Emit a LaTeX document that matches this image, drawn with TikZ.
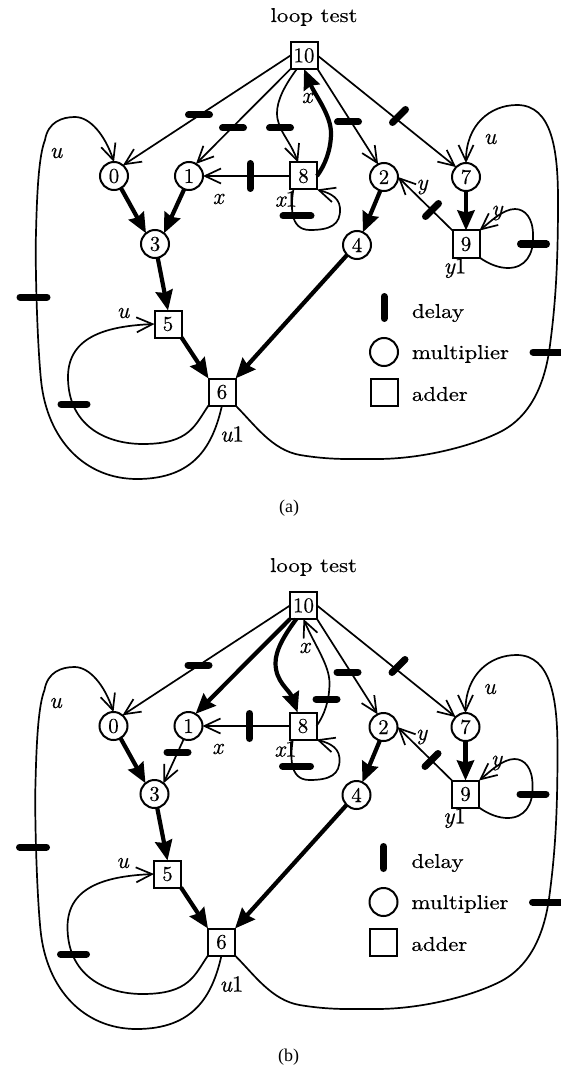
\documentclass[tikz,border=0pt]{standalone}
\usepackage{fontspec}
\usetikzlibrary{arrows.meta}
\setmainfont[FakeBold=0.3]{lmroman10-regular.otf}
\newfontfamily\capfont{Liberation Serif}
\newfontfamily\wideroman[FakeStretch=1.14,FakeBold=0.5]{lmroman10-regular.otf}
\newfontfamily\litalic[FakeBold=0.5]{lmroman10-italic.otf}
\tikzset{
  lbl/.style={font=\fontsize{23}{26}\selectfont,inner sep=0pt,outer sep=0pt},
  mult/.style={circle,draw,line width=2pt,minimum size=28pt,inner sep=0pt,outer sep=0pt,font=\fontsize{21}{24}\selectfont},
  addr/.style={rectangle,draw,line width=2pt,minimum size=27pt,inner sep=0pt,outer sep=0pt,font=\fontsize{21}{24}\selectfont},
  word/.style={font=\wideroman\fontsize{20}{24}\selectfont,inner sep=0pt,outer sep=0pt},
  thinarr/.style={line width=1.7pt,-{Straight Barb[length=16pt,width=15pt]}},
  thickarr/.style={line width=4.2pt,-{Stealth[length=20pt,width=17pt,inset=2pt]}},
  bar/.style={line width=7pt,line cap=round},
  captext/.style={font=\capfont\fontsize{18}{22}\selectfont,inner sep=0pt}
}
\newcommand\il[1]{{\litalic #1}}
\newcommand\delayh[2]{\draw[bar] (#1-10.5,#2) -- (#1+10.5,#2);}
\newcommand\delayv[2]{\draw[bar] (#1,#2-11) -- (#1,#2+11);}
\newcommand\delayd[2]{\draw[bar] (#1-6.5,#2+6.5) -- (#1+6.5,#2-6.5);}
\newcommand\commonpart{%
  \node[word] (title) at (314,17) {loop test};
  \node[addr] (n10) at (304,55.5) {10};
  \node[addr] (n8) at (303.5,176) {8};
  \node[mult] (n0) at (114,176) {0};
  \node[mult] (n1) at (189,176) {1};
  \node[mult] (n3) at (155,244) {3};
  \node[mult] (n2) at (384,177) {2};
  \node[mult] (n7) at (466,177) {7};
  \node[mult] (n4) at (357,245) {4};
  \node[addr] (n9) at (466,244) {9};
  \node[addr] (n5) at (168,324) {5};
  \node[addr] (n6) at (222,392) {6};
  % legend
  \node[mult] (legm) at (384,352) {};
  \node[addr] (lega) at (384,392) {};
  \delayv{384}{307.5}
  \node[word,anchor=west] (td) at (412,313) {delay};
  \node[word,anchor=west] (tm) at (412,354) {multiplier};
  \node[word,anchor=west] (ta) at (412,394) {adder};
  % common edges
  \draw[thinarr] (n10.west) -- (n0.50);
  \delayh{199}{115}
  \draw[thinarr] (n10.south east) -- (n2.115);
  \delayh{348}{122}
  \draw[thinarr] (n10.east) -- (n7.135);
  \delayd{399}{116}
  \draw[thinarr] (n8.west) -- (n1.east);
  \draw[bar] (250,163.5) -- (250,188.5);
  \draw[thinarr] (n8.233) .. controls (291,205) and (289,230) .. (310,230)
     .. controls (330,230) and (341,225) .. (340,208)
     .. controls (339,195) and (325,192) .. (n8.south east);
  \draw[bar] (283,216) -- (311,216);
  \draw[thinarr] (n9.north west) -- (n2.east);
  \delayd{432}{210}
  \draw[thinarr] (n9.south east) .. controls (490,265) and (500,268) .. (508,268)
     .. controls (525,268) and (534,255) .. (533,235)
     .. controls (533,218) and (525,209) .. (515,209)
     .. controls (503,209) and (490,222) .. (n9.north east);
  \draw[bar] (520.5,244) -- (546.5,244);
  \draw[thickarr] (n7) -- (n9);
  \draw[thickarr] (n2.255) -- (n4.65);
  \draw[thickarr] (n4.225) -- (n6.north east);
  \draw[thickarr] (n0.300) -- (n3.130);
  \draw[thickarr] (n3) -- (n5.north);
  \draw[thickarr] (n5.south east) -- (n6.north west);
  \draw[thinarr] (n6.south west) .. controls (195,425) and (190,444) .. (143,444)
     .. controls (105,444) and (68,425) .. (68,377)
     .. controls (68,335) and (110,326) .. (n5.west);
  \draw[bar] (61,404) -- (87,404);
  \draw[thinarr] (n6.south) .. controls (213,445) and (195,479) .. (137,479)
     .. controls (85,479) and (47,440) .. (41,380)
     .. controls (37,340) and (35,260) .. (36,233)
     .. controls (37,190) and (39,155) .. (45,140)
     .. controls (48,122) and (62,117) .. (75,117)
     .. controls (90,117) and (105,135) .. (n0.north);
  \draw[bar] (20,297) -- (47,297);
  \draw[thinarr] (n6.south east) .. controls (255,425) and (272,450) .. (300,455)
     .. controls (330,460) and (350,459) .. (377,459)
     .. controls (420,459) and (470,447) .. (500,432)
     .. controls (530,417) and (545,385) .. (550,345)
     .. controls (556,300) and (558,260) .. (558,200)
     .. controls (558,150) and (552,105) .. (517,105)
     .. controls (490,105) and (466,125) .. (n7.north);
  \draw[bar] (533,352) -- (562,352);
  % labels
  \node[lbl] (lu0) at (56,153) {\il{u}};
  \node[lbl] (lx1) at (218,199) {\il{x}};
  \node[lbl] (lx8) at (286,199) {\il{x}1};
  \node[lbl] (lu7) at (490,139) {\il{u}};
  \node[lbl] (ly2) at (422,187) {\il{y}};
  \node[lbl] (ly9) at (497,213) {\il{y}};
  \node[lbl] (ly1) at (455,268) {\il{y}1};
  \node[lbl] (lu5) at (123,313) {\il{u}};
  \node[lbl] (lu1) at (232,434) {\il{u}1};
}
\begin{document}
\begin{tikzpicture}[x=1pt,y=-1pt]
\useasboundingbox (0,0) rectangle (560,1067);
\begin{scope}[name prefix=a-]
  \commonpart
  \draw[thinarr] (n10.south west) -- (n1.60);
  \delayh{233}{128}
  \draw[thinarr] (n10.242) .. controls (285,85) and (277,100) .. (277,113)
     .. controls (277,130) and (290,140) .. (n8.112);
  \delayh{280}{128}
  \draw[thickarr] (n8.east) .. controls (325,165) and (331,150) .. (331,133)
     .. controls (331,115) and (315,95) .. (n10.south);
  \draw[thickarr] (n1.250) -- (n3.50);
  \node[lbl] (lx10) at (307,98) {\il{x}};
  \node[captext] (capa) at (289,508) {(a)};
\end{scope}
\begin{scope}[name prefix=b-,shift={(-0.5,550)}]
  \commonpart
  \draw[thickarr] (n10.south west) -- (n1.60);
  \draw[thickarr] (n10.242) .. controls (285,85) and (276,100) .. (276,113)
     .. controls (276,132) and (290,140) .. (n8.112);
  \draw[thinarr] (n8.east) .. controls (325,165) and (330,150) .. (330,133)
     .. controls (330,115) and (315,95) .. (n10.south);
  \delayh{327}{149}
  \draw[thinarr] (n1.250) -- (n3.50);
  \delayh{178}{202}
  \node[lbl] (lx10) at (305,98) {\il{x}};
  \node[captext] (capb) at (289,507) {(b)};
\end{scope}
\end{tikzpicture}
\end{document}
